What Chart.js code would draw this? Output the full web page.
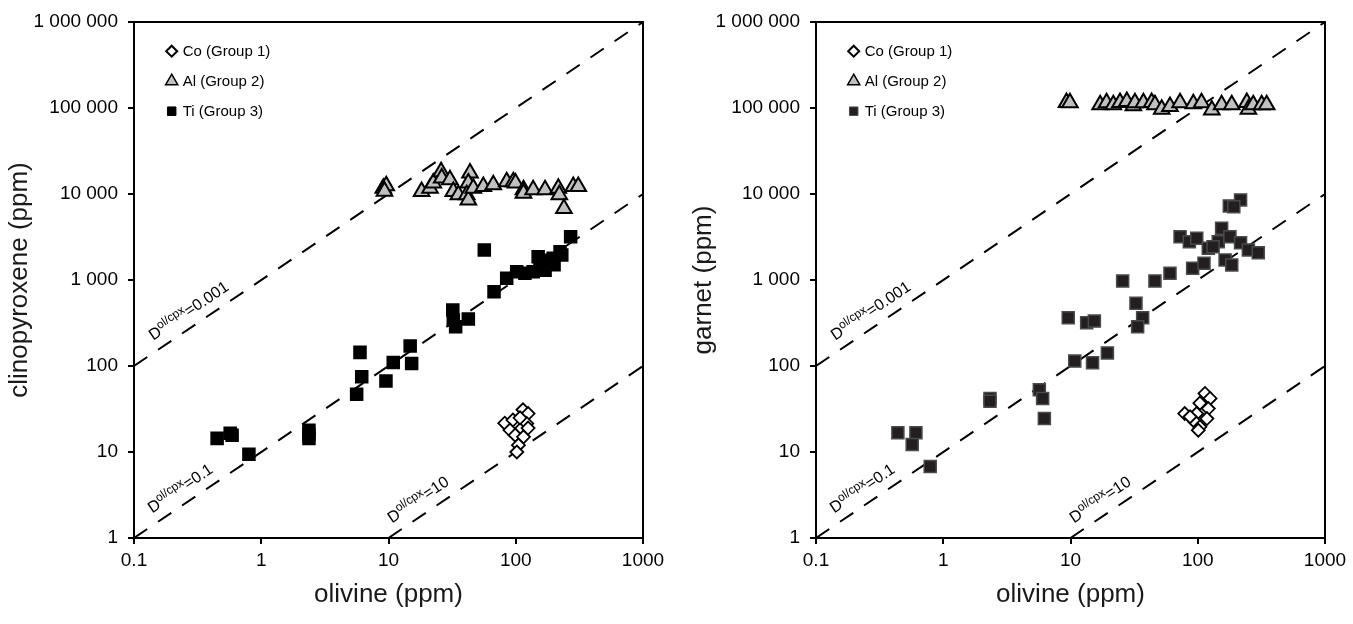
<!DOCTYPE html>
<html>
<head>
<meta charset="utf-8">
<script src="https://cdn.jsdelivr.net/npm/chart.js@4.4.0/dist/chart.umd.js"></script>
<style>
  html, body { margin: 0; padding: 0; background: #fff; }
  #wrap { position: relative; width: 1353px; height: 624px; overflow: hidden; }
  .panel { position: absolute; top: 0; height: 624px; }
</style>
</head>
<body>
<div id="wrap">
  <div class="panel" style="left:0;width:676px"><canvas id="cpxChart" width="676" height="624"></canvas></div>
  <div class="panel" style="left:676px;width:677px"><canvas id="grtChart" width="677" height="624"></canvas></div>
</div>
<script>
// axis ticks
const xTickValues = [0.1, 1, 10, 100, 1000];
const xTickLabels = ['0.1', '1', '10', '100', '1000'];
const yTickValues = [1, 10, 100, 1000, 10000, 100000, 1000000];
const yTickLabels = ['1', '10', '100', '1 000', '10 000', '100 000', '1 000 000'];

// partition lines D(ol/cpx) = olivine / mineral
const dValues = [0.001, 0.1, 10];
const dLabels = ['=0.001', '=0.1', '=10'];
const dLabelAnchors = [0.157, 0.154, 11.8];

// clinopyroxene panel: [olivine ppm, cpx ppm]
const cpxCo = [[114, 31], [125, 28], [82, 21.6], [95, 23.5], [111, 18.8], [122, 21.5], [90, 18],
  [99, 15.7], [115, 15], [105, 12], [102, 10], [125, 19], [108, 25]];
const cpxAl = [[9.1, 11700], [9.6, 12500], [9.3, 10800], [18.2, 10700], [21.2, 11700], [22.5, 13400],
  [25.9, 18200], [26.2, 15300], [30.4, 14600], [32.3, 10700], [35.4, 9800], [43.7, 17500],
  [42.4, 13400], [41.2, 9800], [42.4, 8500], [46.4, 11700], [55.6, 12200], [66.6, 12800],
  [84.9, 13900], [95.7, 13900], [99.5, 13400], [115, 11200], [115, 10200], [137, 11200],
  [170, 11200], [216, 11700], [220, 9800], [239, 6800], [283, 12200], [310, 12200]];
const cpxTi = [[0.45, 14.4], [0.59, 15.7], [0.57, 16.5], [0.80, 9.4], [2.37, 17.9], [2.37, 14.4],
  [2.37, 16], [5.97, 144], [6.16, 75], [5.62, 47], [9.55, 67], [10.9, 110], [14.8, 171],
  [15.2, 107], [32.0, 447], [32.3, 342], [33.7, 286], [42.4, 352], [56.6, 2235], [67.5, 731],
  [84.9, 1047], [101.7, 1250], [118, 1197], [137, 1250], [150, 1868], [164, 1428], [197, 1790],
  [223, 2135], [230, 1955], [270, 3192], [170, 1300], [180, 1700], [155, 1400], [200, 1500]];

// garnet panel: [olivine ppm, garnet ppm]
const grtCo = [[79, 28], [114, 48], [125, 42], [104, 37], [121, 32], [98, 28], [118, 24.5],
  [95, 22.4], [104, 19.6], [101, 17.9], [87, 25.7]];
const grtAl = [[9.3, 116000], [9.9, 115000], [17.1, 109000], [19.2, 115000], [21.7, 109000],
  [24.5, 116000], [27.7, 119000], [31.2, 106000], [32.1, 115000], [37.4, 115000], [43.4, 116000],
  [46.1, 109000], [52.1, 97000], [60.5, 104000], [72.6, 115000], [92.3, 112000], [107, 115000],
  [129, 95000], [154, 109000], [185, 109000], [243, 116000], [250, 97000], [273, 109000],
  [318, 109000], [348, 109000]];
const grtTi = [[0.44, 16.7], [0.61, 16.7], [0.57, 12.2], [0.79, 6.8], [2.33, 42], [2.33, 39],
  [5.69, 53], [6.04, 42], [6.23, 24.5], [10.8, 114], [14.9, 109], [19.5, 142], [9.6, 364],
  [13.4, 318], [15.4, 333], [25.7, 973], [32.7, 535], [36.9, 364], [33.7, 286], [46.1, 973],
  [60.5, 1197], [91.2, 1368], [112, 1565], [72.6, 3192], [85.9, 2792], [98.2, 3055], [121, 2340],
  [145, 2792], [154, 4000], [179, 3192], [132, 2443], [164, 1710], [185, 1496], [217, 2717],
  [250, 2235], [299, 2080], [177, 7270], [217, 8540], [192, 7100]];

const FONT = "'Liberation Sans', Arial, sans-serif";
Chart.defaults.font.family = FONT;
Chart.defaults.color = '#000';

const toPts = arr => arr.map(p => ({ x: p[0], y: p[1] }));

// frame round the plot area (top and right sides)
const framePlugin = {
  id: 'frame',
  beforeDatasetsDraw(chart) {
    const { ctx, chartArea: a } = chart;
    ctx.save();
    ctx.strokeStyle = '#000';
    ctx.lineWidth = 2;
    ctx.beginPath();
    ctx.moveTo(a.left, a.top);
    ctx.lineTo(a.right, a.top);
    ctx.lineTo(a.right, a.bottom);
    ctx.stroke();
    ctx.restore();
  }
};

// legend in the top-left corner of the plot
const legendPlugin = {
  id: 'groupLegend',
  afterDatasetsDraw(chart) {
    const { ctx, chartArea } = chart;
    let row = 0;
    chart.data.datasets.forEach(ds => {
      if (!ds.legendMarker) return;
      const x = chartArea.left + 37.7;
      const y = chartArea.top + 29.2 + row * 30;
      ctx.save();
      ctx.fillStyle = ds.backgroundColor;
      ctx.strokeStyle = ds.borderColor;
      ctx.lineWidth = ds.legendMarker.borderWidth;
      Chart.helpers.drawPoint(ctx, {
        pointStyle: ds.pointStyle,
        radius: ds.legendMarker.radius,
        borderWidth: ds.legendMarker.borderWidth,
        rotation: 0
      }, x, y);
      ctx.fillStyle = '#000';
      ctx.font = '15px ' + FONT;
      ctx.textBaseline = 'middle';
      ctx.textAlign = 'left';
      ctx.fillText(ds.label, x + 11, y + 1);
      ctx.restore();
      row++;
    });
  }
};

// rotated labels along the dashed partition lines
const dLabelPlugin = {
  id: 'dLabels',
  afterDatasetsDraw(chart) {
    const { ctx, scales: { x, y } } = chart;
    dValues.forEach((d, i) => {
      const x0 = dLabelAnchors[i];
      const px = x.getPixelForValue(x0), py = y.getPixelForValue(x0 / d);
      const px2 = x.getPixelForValue(x0 * 10), py2 = y.getPixelForValue(x0 * 10 / d);
      const ang = Math.atan2(py2 - py, px2 - px);
      ctx.save();
      ctx.translate(px, py);
      ctx.rotate(ang);
      ctx.fillStyle = '#000';
      ctx.textBaseline = 'alphabetic';
      ctx.textAlign = 'left';
      ctx.font = '16px ' + FONT;
      ctx.fillText('D', 0, -10);
      let w = ctx.measureText('D').width;
      ctx.font = '12px ' + FONT;
      ctx.fillText('ol/cpx', w, -16);
      w += ctx.measureText('ol/cpx').width;
      ctx.font = '16px ' + FONT;
      ctx.fillText(dLabels[i], w, -10);
      ctx.restore();
    });
  }
};

function dLineDatasets() {
  return dValues.map(d => {
    const xa = Math.max(xTickValues[0], yTickValues[0] * d);
    const xb = Math.min(xTickValues[xTickValues.length - 1], yTickValues[yTickValues.length - 1] * d);
    return {
      type: 'line',
      data: [{ x: xa, y: xa / d }, { x: xb, y: xb / d }],
      borderColor: '#000',
      borderWidth: 2,
      borderDash: [16, 13],
      pointRadius: 0,
      fill: false,
      showLine: true
    };
  });
}

function makeChart(id, yTitle, co, al, ti, tiFill, tiBorder, padLeft, padRight, yWidth) {
  const ctx = document.getElementById(id).getContext('2d');
  return new Chart(ctx, {
    type: 'scatter',
    data: {
      datasets: [
        {
          label: 'Co (Group 1)', data: toPts(co), pointStyle: 'rectRot', pointRadius: 6.5,
          backgroundColor: '#ffffff', borderColor: '#000000', borderWidth: 1.8,
          legendMarker: { radius: 5.5, borderWidth: 2 }
        },
        {
          label: 'Al (Group 2)', data: toPts(al), pointStyle: 'triangle', pointRadius: 9,
          backgroundColor: '#c0c0c0', borderColor: '#000000', borderWidth: 2,
          legendMarker: { radius: 7, borderWidth: 1.5 }
        },
        {
          label: 'Ti (Group 3)', data: toPts(ti), pointStyle: 'rect', pointRadius: 8.5,
          backgroundColor: tiFill, borderColor: tiBorder, borderWidth: 1.5,
          legendMarker: { radius: 6, borderWidth: 1 }
        },
        ...dLineDatasets()
      ]
    },
    options: {
      responsive: false,
      animation: false,
      events: [],
      layout: { padding: { top: 22, right: padRight, left: padLeft, bottom: 10 } },
      plugins: { legend: { display: false }, tooltip: { enabled: false } },
      scales: {
        x: {
          type: 'logarithmic', min: 0.1, max: 1000,
          afterBuildTicks: s => { s.ticks = xTickValues.map(v => ({ value: v })); },
          afterFit: s => { s.height = 76; },
          ticks: {
            autoSkip: false, maxRotation: 0, padding: 5, color: '#000',
            font: { size: 19 },
            callback: (v, i) => xTickLabels[i]
          },
          grid: { drawOnChartArea: false, drawTicks: true, tickLength: 6, color: '#000', lineWidth: 2 },
          border: { display: true, color: '#000', width: 2 },
          title: { display: true, text: 'olivine (ppm)', color: '#1a1a1a', font: { size: 26 } }
        },
        y: {
          type: 'logarithmic', min: 1, max: 1000000,
          afterBuildTicks: s => { s.ticks = yTickValues.map(v => ({ value: v })); },
          afterFit: s => { s.width = yWidth; },
          ticks: {
            autoSkip: false, padding: 10, color: '#000',
            font: { size: 19 },
            callback: (v, i) => yTickLabels[i]
          },
          grid: { drawOnChartArea: false, drawTicks: true, tickLength: 6, color: '#000', lineWidth: 2 },
          border: { display: true, color: '#000', width: 2 },
          title: { display: true, text: yTitle, color: '#1a1a1a', font: { size: 26 } }
        }
      }
    },
    plugins: [framePlugin, legendPlugin, dLabelPlugin]
  });
}

makeChart('cpxChart', 'clinopyroxene (ppm)', cpxCo, cpxAl, cpxTi, '#000000', '#000000', 0, 33, 134);
makeChart('grtChart', 'garnet (ppm)', grtCo, grtAl, grtTi, '#231f20', '#4a4a4a', 8, 28, 132);
</script>
</body>
</html>
